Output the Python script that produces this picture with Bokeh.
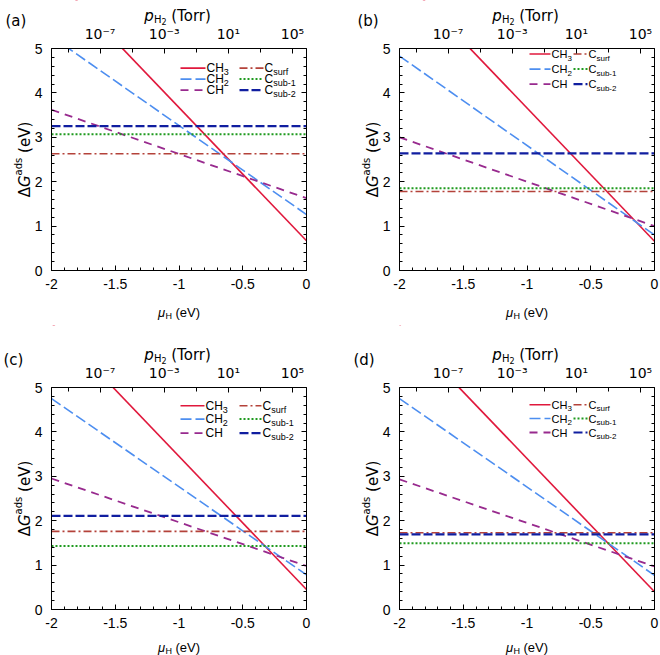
from bokeh.plotting import figure
from bokeh.models import (Range1d, LinearAxis, FixedTicker, SingleIntervalTicker,
                          Label, NumeralTickFormatter, BoxAnnotation)
from bokeh.layouts import row, column
from bokeh.embed import file_html
from bokeh.resources import INLINE

# ---------------- data ----------------
MU = [-2.0, 0.0]                       # mu_H (eV) at the two ends of each line
PANEL_TAGS = ["(a)", "(b)", "(c)", "(d)"]
CH3 = [[6.67, 0.67], [6.66, 0.66], [6.45, 0.45], [6.40, 0.40]]
CH2 = [[5.27, 1.26], [4.83, 0.80], [4.75, 0.78], [4.75, 0.77]]
CH = [[3.62, 1.63], [3.00, 1.00], [2.95, 0.98], [2.93, 0.97]]
C_SURF = [2.63, 1.78, 1.76, 1.73]
C_SUB1 = [3.07, 1.85, 1.43, 1.49]
C_SUB2 = [3.25, 2.64, 2.11, 1.69]

P_TICKS = [-7, -3, 1, 5]               # log10 p_H2 (Torr), labelled
P_MINOR = [-9, -5, -1, 3]
P_TICK_LABELS = ["10\u207b\u2077", "10\u207b\u00b3", "10\u00b9", "10\u2075"]
P_RANGE = (-10.03, 5.875)              # log10 p_H2 at mu_H = -2 and 0

# ---------------- styles / layout ----------------
X0, X1, Y0, Y1 = -2.0, 0.0, 0.0, 5.0
FW, FH = 255, 222                      # plot box size in px
DV = "DejaVu Sans"
LS = "Liberation Sans"

STYLES = {
    "CH3": dict(color="#e0183c", width=1.6, dash="solid"),
    "CH2": dict(color="#4d8ef0", width=1.6, dash="11 4"),
    "CH": dict(color="#982a8e", width=1.8, dash="8 6"),
    "Csurf": dict(color="#b4423a", width=1.6, dash="8 3 2 3"),
    "Csub1": dict(color="#1f9a1f", width=2.0, dash="2 2"),
    "Csub2": dict(color="#101ea0", width=2.2, dash="9 3"),
}

# panel geometry: figure size and plot-box offset (px)
GEOM = [dict(w=330, h=325, left=51, top=48),
        dict(w=330, h=325, left=69, top=48),
        dict(w=330, h=330, left=51, top=62),
        dict(w=330, h=330, left=69, top=62)]
TAG_DX = [-46, -42, -48, -46]
XLAB_DY = [-42, -42, -38, -38]
LEGEND = [dict(c1=129, s1=25, c2=188, s2=24, font=12, rows=[19.6, 30.6, 41.6]),
          dict(c1=130, s1=21, c2=174, s2=14, font=11, rows=[5.5, 20.6, 35.6]),
          dict(c1=129, s1=24, c2=188, s2=22, font=12, rows=[18.3, 31.6, 45.6]),
          dict(c1=130, s1=21, c2=174, s2=14, font=11, rows=[17.3, 31.0, 45.0])]


def px2x(px):
    return X0 + px / FW * (X1 - X0)


def px2y(py_top):
    return Y1 - py_top / FH * (Y1 - Y0)


def txt(p, dx, dy, text, size, font=DV, style="normal", align="left",
        baseline="alphabetic", angle=0):
    p.add_layout(Label(x=X0, y=Y0, x_offset=dx, y_offset=dy, text=text,
                       text_font=font, text_font_size=f"{size}px",
                       text_font_style=style, text_align=align,
                       text_baseline=baseline, angle=angle, angle_units="deg",
                       text_color="black"))


def style_axis(ax):
    ax.axis_line_color = "black"
    ax.axis_line_width = 1
    ax.major_tick_line_color = "black"
    ax.minor_tick_line_color = "black"
    ax.major_tick_in = 5
    ax.major_tick_out = 0
    ax.minor_tick_in = 3
    ax.minor_tick_out = 0


def make_panel(i):
    g = GEOM[i]
    sx_ = (X1 - X0) / FW
    sy_ = (Y1 - Y0) / FH
    rgt = g["w"] - g["left"] - FW
    bot = g["h"] - g["top"] - FH
    xr = Range1d(X0 - g["left"] * sx_, X1 + rgt * sx_)
    yr = Range1d(Y0 - bot * sy_, Y1 + g["top"] * sy_)
    sp = (P_RANGE[1] - P_RANGE[0]) / FW
    pr = Range1d(P_RANGE[0] - g["left"] * sp, P_RANGE[1] + rgt * sp)

    p = figure(frame_width=g["w"], frame_height=g["h"], x_range=xr, y_range=yr,
               output_backend="svg", toolbar_location=None, min_border=0,
               x_axis_location=None, y_axis_location=None,
               background_fill_color="white", border_fill_color="white",
               outline_line_color=None)
    p.xgrid.visible = False
    p.ygrid.visible = False
    p.extra_x_ranges = {"p": pr}

    # series
    series = [("CH3", CH3[i]), ("CH2", CH2[i]), ("CH", CH[i]),
              ("Csurf", [C_SURF[i]] * 2), ("Csub1", [C_SUB1[i]] * 2),
              ("Csub2", [C_SUB2[i]] * 2)]
    for key, ys in series:
        s = STYLES[key]
        p.line(MU, ys, line_color=s["color"], line_width=s["width"],
               line_dash=s["dash"])

    # white masks outside the plot box (lines are clipped to the box)
    for kw in (dict(bottom=Y1), dict(top=Y0), dict(right=X0), dict(left=X1)):
        p.add_layout(BoxAnnotation(fill_color="white", fill_alpha=1.0,
                                   line_color=None, level="glyph", **kw))

    # axes fixed on the plot-box edges
    xa = LinearAxis(fixed_location=Y0, bounds=(X0, X1),
                    ticker=SingleIntervalTicker(interval=0.5, num_minor_ticks=5),
                    formatter=NumeralTickFormatter(format="0[.][0]"),
                    major_label_text_font=LS, major_label_text_font_size="14px",
                    major_label_text_color="black", major_label_standoff=8)
    ya = LinearAxis(fixed_location=X0, bounds=(Y0, Y1),
                    ticker=SingleIntervalTicker(interval=1, num_minor_ticks=5),
                    major_label_text_font=LS, major_label_text_font_size="14px",
                    major_label_text_color="black", major_label_standoff=9)
    ra = LinearAxis(fixed_location=X1, bounds=(Y0, Y1),
                    ticker=SingleIntervalTicker(interval=1, num_minor_ticks=5),
                    major_label_text_color=None)
    ta = LinearAxis(x_range_name="p", fixed_location=Y1, bounds=P_RANGE,
                    ticker=FixedTicker(ticks=P_TICKS, minor_ticks=P_MINOR),
                    major_label_overrides={t: l for t, l in zip(P_TICKS, P_TICK_LABELS)},
                    major_label_text_font=DV, major_label_text_font_size="14px",
                    major_label_text_color="black", major_label_standoff=7)
    for ax in (xa, ya, ra, ta):
        style_axis(ax)
    ta.minor_tick_in = 4
    p.add_layout(xa, "below")
    p.add_layout(ya, "left")
    p.add_layout(ra, "right")
    p.add_layout(ta, "above")

    # legend (two columns, drawn by hand for sub-scripted labels)
    lg = LEGEND[i]
    fs = lg["font"]
    entries = [("CH3", 0, 0, "CH", "3"), ("CH2", 0, 1, "CH", "2"), ("CH", 0, 2, "CH", ""),
               ("Csurf", 1, 0, "C", "surf"), ("Csub1", 1, 1, "C", "sub-1"),
               ("Csub2", 1, 2, "C", "sub-2")]
    for key, col, r, main, sub in entries:
        s = STYLES[key]
        x0 = lg["c1"] if col == 0 else lg["c2"]
        x1 = x0 + (lg["s1"] if col == 0 else lg["s2"])
        yy = lg["rows"][r]
        p.line([px2x(x0), px2x(x1)], [px2y(yy)] * 2, line_color=s["color"],
               line_width=s["width"], line_dash=s["dash"])
        tx = x1 + 1
        ty = FH - yy
        txt(p, tx, ty, main, fs, font=LS, baseline="middle")
        if sub:
            w = (1.444 if main == "CH" else 0.722) * fs
            txt(p, tx + w, ty - 4, sub, fs - 3, font=LS, baseline="middle")

    # panel tag
    txt(p, TAG_DX[i], FH + 28, PANEL_TAGS[i], 15)

    # top title p_H2 (Torr)
    wp, wH, w2, wsp, wT = 0.635 * 15, 0.752 * 10, 0.636 * 8, 0.318 * 15, 2.825 * 15
    sx = FW / 2 - (wp + wH + w2 + wsp + wT) / 2
    by = FH + 33
    txt(p, sx, by, "p", 15, style="italic")
    txt(p, sx + wp, by - 4, "H", 10)
    txt(p, sx + wp + wH, by - 6, "2", 8)
    txt(p, sx + wp + wH + w2 + wsp, by, "(Torr)", 15)

    # bottom title mu_H (eV)
    wm, wh, wsp, we = 0.576 * 13, 0.722 * 9, 0.278 * 13, 1.889 * 13
    sx = FW / 2 - (wm + wh + wsp + we) / 2
    by = XLAB_DY[i]
    txt(p, sx, by, "\u03bc", 13, font=LS, style="italic")
    txt(p, sx + wm, by - 3, "H", 9, font=LS)
    txt(p, sx + wm + wh + wsp, by, "(eV)", 13, font=LS)

    # left title Delta G^ads (eV), rotated
    wD, wG, wa, wsp, wE = 0.684 * 15, 0.775 * 15, 1.769 * 10, 0.318 * 15, 2.079 * 15
    sy = FH / 2 - (wD + wG + wa + wsp + wE) / 2
    bx = -27
    txt(p, bx, sy, "\u0394", 15, angle=90)
    txt(p, bx, sy + wD, "G", 15, style="italic", angle=90)
    txt(p, bx - 6, sy + wD + wG, "ads", 10, angle=90)
    txt(p, bx, sy + wD + wG + wa + wsp, "(eV)", 15, angle=90)
    return p


panels = [make_panel(i) for i in range(4)]
layout = column(row(panels[0], panels[1]), row(panels[2], panels[3]))

open("out.html", "w").write(file_html(layout, INLINE))
